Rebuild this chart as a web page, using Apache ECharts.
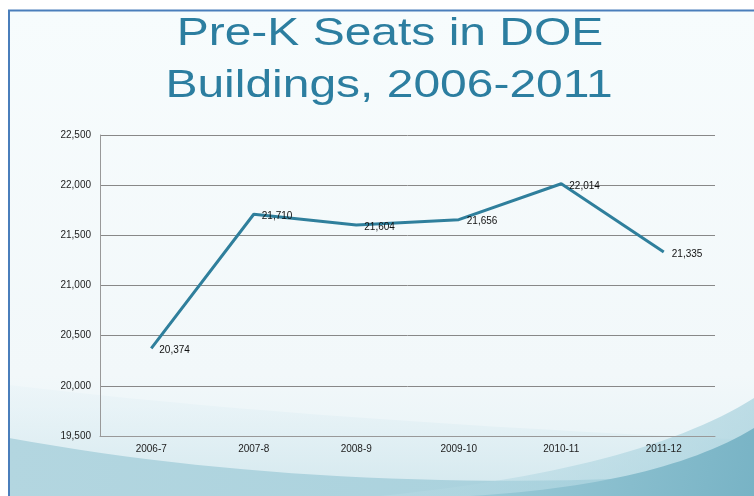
<!DOCTYPE html>
<html>
<head>
<meta charset="utf-8">
<script src="https://cdn.jsdelivr.net/npm/echarts@6/dist/echarts.min.js"></script>
<style>
  html, body { margin: 0; padding: 0; background: #fff; }
  #chart { width: 754px; height: 496px; }
</style>
</head>
<body>
<div id="chart"></div>
<script>
var years = ['2006-7', '2007-8', '2008-9', '2009-10', '2010-11', '2011-12'];
var seats = [20374, 21710, 21604, 21656, 22014, 21335];
var yTicks = { min: 19500, max: 22500, step: 500 };
var titleLines = ['Pre-K Seats in DOE', 'Buildings, 2006-2011'];

var chart = echarts.init(document.getElementById('chart'));

function fmt(n) {
  return String(n).replace(/\B(?=(\d{3})+(?!\d))/g, ',');
}

// curve points for the slide swooshes (decoration only)
function curve(x0, y0, cx, cy, x1, y1, n) {
  var pts = [];
  for (var i = 0; i <= n; i++) {
    var t = i / n;
    var x = (1 - t) * (1 - t) * x0 + 2 * (1 - t) * t * cx + t * t * x1;
    var y = (1 - t) * (1 - t) * y0 + 2 * (1 - t) * t * cy + t * t * y1;
    pts.push([x, y]);
  }
  return pts;
}
var bandA = curve(9, 385, 300, 420, 754, 440, 30).concat([[754, 496], [9, 496]]);
var bandB = curve(9, 438, 350, 500, 754, 472, 30).concat([[754, 496], [9, 496]]);
var bandD = curve(380, 496, 640, 470, 754, 398, 30).concat([[754, 496]]);
var bandC = curve(470, 496, 660, 485, 754, 428, 30).concat([[754, 496]]);

// slide title: the original font is wider than Arial, so stretch it a bit
function titleText(str, cx, cy) {
  return {
    type: 'text', silent: true, z: 10,
    x: cx, y: cy, scaleX: 1.23,
    style: {
      text: str, x: 0, y: 0,
      textAlign: 'center', textVerticalAlign: 'middle',
      fontSize: 39, fontFamily: 'Liberation Sans, Arial, sans-serif',
      fill: '#2c7ea0'
    }
  };
}

option = {
  animation: false,
  textStyle: { fontFamily: 'Liberation Sans, Arial, sans-serif' },
  graphic: [
    {
      type: 'rect', z: -10, silent: true,
      shape: { x: 9, y: 10, width: 745, height: 486 },
      style: {
        fill: new echarts.graphic.LinearGradient(0, 0, 0, 1, [
          { offset: 0, color: '#f7fcfd' },
          { offset: 0.75, color: '#f2f8fa' },
          { offset: 1, color: '#e4f1f5' }
        ])
      }
    },
    {
      type: 'polygon', z: -9, silent: true,
      shape: { points: bandA },
      style: {
        fill: new echarts.graphic.LinearGradient(0, 0, 0, 1, [
          { offset: 0, color: 'rgba(232,243,247,0.5)' },
          { offset: 1, color: '#d3e8ee' }
        ])
      }
    },
    {
      type: 'polygon', z: -8, silent: true,
      shape: { points: bandB },
      style: {
        fill: new echarts.graphic.LinearGradient(0, 0, 1, 1, [
          { offset: 0, color: '#b3d6e0' },
          { offset: 1, color: '#a6d0dc' }
        ])
      }
    },
    {
      type: 'polygon', z: -7, silent: true,
      shape: { points: bandD },
      style: {
        fill: new echarts.graphic.LinearGradient(0, 0, 1, 1, [
          { offset: 0, color: 'rgba(190,222,231,0.4)' },
          { offset: 1, color: 'rgba(150,200,214,0.6)' }
        ])
      }
    },
    {
      type: 'polygon', z: -6, silent: true,
      shape: { points: bandC },
      style: {
        fill: new echarts.graphic.LinearGradient(0, 0, 1, 1, [
          { offset: 0, color: '#9ccbd8' },
          { offset: 1, color: '#78b3c5' }
        ])
      }
    },
    {
      type: 'line', z: -5, silent: true,
      shape: { x1: 8, y1: 10.5, x2: 754, y2: 10.5 },
      style: { stroke: '#4a7ebb', lineWidth: 2 }
    },
    {
      type: 'line', z: -5, silent: true,
      shape: { x1: 9, y1: 10, x2: 9, y2: 496 },
      style: { stroke: '#4a7ebb', lineWidth: 2 }
    },
    titleText(titleLines[0], 390, 34),
    titleText(titleLines[1], 389, 86)
  ],
  grid: { left: 100, right: 39, top: 135, bottom: 60 },
  xAxis: {
    type: 'category',
    data: years,
    boundaryGap: true,
    axisLine: { lineStyle: { color: '#999', width: 1 } },
    axisTick: { show: false },
    axisLabel: { fontSize: 10, color: '#222', margin: 8 }
  },
  yAxis: {
    type: 'value',
    min: yTicks.min,
    max: yTicks.max,
    interval: yTicks.step,
    axisLine: { show: true, lineStyle: { color: '#999', width: 1 } },
    axisTick: { show: false },
    axisLabel: { fontSize: 10, color: '#222', margin: 9, formatter: fmt },
    splitLine: { lineStyle: { color: '#888', width: 1 } }
  },
  series: [
    {
      type: 'line',
      data: seats,
      symbol: 'circle',
      symbolSize: 0.1,
      itemStyle: { color: '#2f7f9c' },
      lineStyle: { color: '#2f7f9c', width: 3 },
      label: {
        show: true,
        position: 'right',
        distance: 8,
        offset: [0, 2],
        fontSize: 10,
        color: '#111',
        formatter: function (p) { return fmt(p.value); }
      }
    }
  ]
};
chart.setOption(option);
</script>
</body>
</html>
